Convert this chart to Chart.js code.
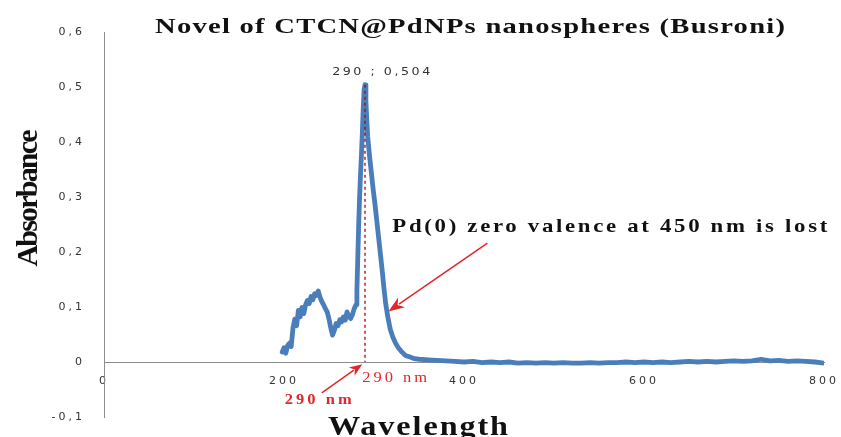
<!DOCTYPE html>
<html>
<head>
<meta charset="utf-8">
<script src="https://cdn.jsdelivr.net/npm/chart.js@4.4.1/dist/chart.umd.min.js"></script>
<style>
  html, body { margin: 0; padding: 0; background: #fff; }
</style>
</head>
<body>
<canvas id="spectrum" width="841" height="437"></canvas>
<script>
// UV-vis spectrum
const wavelength = [198, 200, 202, 204, 206, 208, 210, 212, 214, 216, 218, 220, 222, 224, 226, 228, 230, 232, 234, 236,
  238, 240, 242, 244, 246, 248, 250, 252, 254, 256, 258, 260, 262, 264, 266, 268, 270, 272, 274, 276,
  278, 280, 281, 282, 283, 284, 285, 286, 287, 288, 289, 290, 291, 292, 293, 295, 297, 299, 301, 303,
  305, 307, 309, 311, 313, 315, 318, 321, 324, 327, 331, 335, 340, 345, 350, 360, 370, 380, 390, 400,
  410, 420, 430, 440, 450, 460, 470, 480, 490, 500, 510, 520, 530, 540, 550, 560, 570, 580, 590, 600,
  610, 620, 630, 640, 650, 660, 670, 680, 690, 700, 710, 720, 730, 740, 750, 760, 770, 780, 790, 800];
const absorbance = [0.018, 0.026, 0.016, 0.030, 0.034, 0.028, 0.062, 0.078, 0.066, 0.094, 0.082, 0.099, 0.088, 0.104, 0.112, 0.106, 0.119, 0.113, 0.124, 0.121,
  0.129, 0.118, 0.110, 0.104, 0.097, 0.091, 0.078, 0.062, 0.049, 0.058, 0.070, 0.066, 0.077, 0.073, 0.082, 0.076, 0.091, 0.083, 0.079, 0.086,
  0.097, 0.104, 0.130, 0.190, 0.250, 0.300, 0.340, 0.375, 0.415, 0.460, 0.495, 0.504, 0.475, 0.440, 0.410, 0.375, 0.345, 0.315, 0.288, 0.258,
  0.228, 0.198, 0.168, 0.135, 0.106, 0.085, 0.060, 0.045, 0.034, 0.026, 0.018, 0.012, 0.009, 0.006, 0.005, 0.004, 0.003, 0.002, 0.001, 0.000,
  0.001, -0.001, 0.000, -0.001, 0.000, -0.002, -0.001, -0.002, -0.001, -0.002, -0.001, -0.002, -0.002, -0.001, -0.002, -0.001, -0.001, 0.000, -0.001, 0.000,
  -0.001, 0.000, -0.001, 0.000, 0.001, 0.000, 0.001, 0.000, 0.001, 0.002, 0.001, 0.002, 0.005, 0.002, 0.003, 0.001, 0.002, 0.001, 0.000, -0.002];

const xTicks = [0, 200, 400, 600, 800];
const yTicks = [-0.1, 0, 0.1, 0.2, 0.3, 0.4, 0.5, 0.6];

const peakX = 290;
const peakY = 0.504;

const titleText = 'Novel of CTCN@PdNPs nanospheres (Busroni)';
const xTitle = 'Wavelength';
const yTitle = 'Absorbance';
const peakLabel = '290 ; 0,504';
const lostLabel = 'Pd(0) zero valence at 450 nm is lost';
const nmLabel = '290 nm';

const blue = 'rgb(74, 126, 187)';
const red = '#e3262a';
const darkRed = '#b40000';

const comma = v => String(Math.round(v * 10) / 10).replace('.', ',');

// text centred on x, widened to a given width (part stretch, part letter spacing)
function spaced(ctx, text, x, y, font, color, width, stretch = 1) {
  ctx.save();
  ctx.font = font;
  ctx.letterSpacing = '0px';
  const w = ctx.measureText(text).width;
  ctx.letterSpacing = ((width / stretch - w) / (text.length - 1)) + 'px';
  ctx.fillStyle = color;
  ctx.textAlign = 'left';
  ctx.textBaseline = 'alphabetic';
  ctx.translate(x - width / 2, y);
  ctx.scale(stretch, 1);
  ctx.fillText(text, 0, 0);
  ctx.restore();
}

function arrow(ctx, x1, y1, x2, y2, color, lw, len, half) {
  const a = Math.atan2(y2 - y1, x2 - x1);
  const c = Math.cos(a), s = Math.sin(a);
  ctx.save();
  ctx.strokeStyle = color;
  ctx.fillStyle = color;
  ctx.lineWidth = lw;
  ctx.beginPath();
  ctx.moveTo(x1, y1);
  ctx.lineTo(x2 - c * len * 0.8, y2 - s * len * 0.8);
  ctx.stroke();
  ctx.beginPath();
  ctx.moveTo(x2, y2);
  ctx.lineTo(x2 - c * len - s * half, y2 - s * len + c * half);
  ctx.lineTo(x2 - c * len * 0.7, y2 - s * len * 0.7);
  ctx.lineTo(x2 - c * len + s * half, y2 - s * len - c * half);
  ctx.closePath();
  ctx.fill();
  ctx.restore();
}

const tickSpacing = {
  id: 'tickSpacing',
  beforeLayout(chart) { chart.ctx.letterSpacing = '3px'; },
  beforeDraw(chart) { chart.ctx.letterSpacing = '3px'; }
};

const notes = {
  id: 'notes',
  afterDatasetsDraw(chart) {
    const ctx = chart.ctx;
    const x = chart.scales.x, y = chart.scales.y;
    const px = v => x.getPixelForValue(v);
    const py = v => y.getPixelForValue(v);

    // peak value label
    spaced(ctx, peakLabel, px(308), py(0.522), '11px "DejaVu Sans"', '#333', 98, 1.15);

    // Pd(0) remark and its arrow
    spaced(ctx, lostLabel, px(562), py(0.236), 'bold 19px "Liberation Serif"', '#111', 435, 1.2);
    arrow(ctx, px(426), py(0.216), px(316), py(0.092), red, 1.5, 16, 6);

    // 290 nm marks under the axis
    spaced(ctx, nmLabel, px(323), py(-0.036), '15px "Liberation Serif"', red, 65, 1.1);
    spaced(ctx, nmLabel, px(238), py(-0.076), 'bold 15px "Liberation Serif"', red, 67, 1.1);
    arrow(ctx, px(242), py(-0.056), px(287), py(-0.004), red, 1.5, 13, 5);
  },
  afterDraw(chart) {
    const ctx = chart.ctx;
    spaced(ctx, titleText, 470, 33, 'bold 22px "Liberation Serif"', '#111', 630, 1.3);
    spaced(ctx, xTitle, 418, 435, 'bold 28px "Liberation Serif"', '#111', 180, 1.15);
    ctx.save();
    ctx.translate(37, 198);
    ctx.rotate(-Math.PI / 2);
    spaced(ctx, yTitle, 0, 0, 'bold 30px "Liberation Serif"', '#111', 137);
    ctx.restore();
  }
};

new Chart(document.getElementById('spectrum'), {
  type: 'line',
  data: {
    datasets: [
      {
        data: [{ x: peakX, y: peakY }, { x: peakX, y: 0 }],
        borderColor: darkRed,
        borderWidth: 1.3,
        borderDash: [3, 3],
        pointRadius: 0,
        order: 0
      },
      {
        data: wavelength.map((w, i) => ({ x: w, y: absorbance[i] })),
        borderColor: blue,
        borderWidth: 4.8,
        borderJoinStyle: 'round',
        borderCapStyle: 'round',
        pointRadius: 0,
        tension: 0,
        order: 1
      }
    ]
  },
  options: {
    responsive: false,
    devicePixelRatio: 1,
    animation: false,
    layout: { padding: { top: 32, right: 17, bottom: 20, left: 0 } },
    plugins: { legend: { display: false }, tooltip: { enabled: false } },
    scales: {
      x: {
        type: 'linear',
        position: { y: 0 },
        min: 0,
        max: 800,
        afterBuildTicks: s => { s.ticks = xTicks.map(v => ({ value: v })); },
        afterFit: s => { s.paddingLeft = 0; s.paddingRight = 0; },
        grid: { display: false, drawTicks: false },
        border: { display: true, color: '#8c8c8c', width: 1 },
        ticks: { padding: 13, color: '#333', font: { family: 'DejaVu Sans', size: 11 }, callback: v => comma(v) }
      },
      y: {
        position: 'left',
        min: -0.1,
        max: 0.6,
        afterBuildTicks: s => { s.ticks = yTicks.map(v => ({ value: v })); },
        afterFit: s => { s.width = 104; s.paddingTop = 0; s.paddingBottom = 0; },
        grid: { display: false, drawTicks: false },
        border: { display: true, color: '#8c8c8c', width: 1 },
        ticks: { padding: 19, color: '#333', font: { family: 'DejaVu Sans', size: 11 }, callback: v => comma(v) }
      }
    }
  },
  plugins: [tickSpacing, notes]
});
</script>
</body>
</html>
